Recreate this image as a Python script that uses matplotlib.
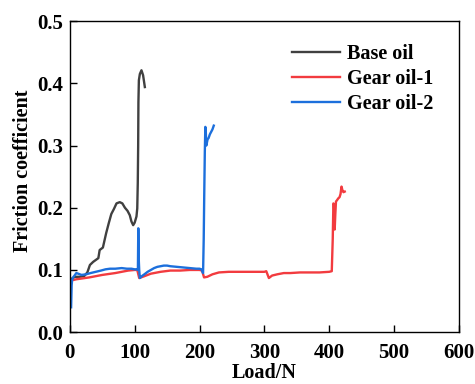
import matplotlib
matplotlib.use("Agg")
import matplotlib.pyplot as plt

base_x = [3, 8, 15, 22, 27, 31, 36, 40, 44, 46, 51, 56, 60, 64, 68, 72, 77, 81, 85, 89, 92.5, 95, 97.7, 100, 102.8, 104, 104.8, 105.4, 105.8, 106.5, 108, 110.5, 113, 115.7]
base_y = [0.086, 0.089, 0.089, 0.090, 0.096, 0.108, 0.113, 0.116, 0.119, 0.132, 0.136, 0.159, 0.175, 0.190, 0.198, 0.207, 0.209, 0.207, 0.200, 0.195, 0.188, 0.178, 0.172, 0.176, 0.186, 0.199, 0.24, 0.30, 0.37, 0.405, 0.415, 0.421, 0.413, 0.394]

g1_x = [2, 10, 30, 50, 70, 90, 100, 104, 107, 115, 125, 140, 155, 170, 185, 200, 204, 207, 212, 220, 230, 245, 260, 280, 300, 303, 307, 312, 320, 330, 340, 355, 370, 385, 400, 404, 405.5, 406.5, 407.5, 408.5, 409.5, 410.5, 412, 414, 416, 417.5, 419, 420.5, 422, 424]
g1_y = [0.083, 0.085, 0.088, 0.092, 0.095, 0.099, 0.100, 0.100, 0.087, 0.090, 0.094, 0.097, 0.099, 0.099, 0.100, 0.100, 0.099, 0.088, 0.089, 0.093, 0.096, 0.097, 0.097, 0.097, 0.097, 0.098, 0.087, 0.091, 0.093, 0.095, 0.095, 0.096, 0.096, 0.096, 0.097, 0.098, 0.15, 0.207, 0.205, 0.165, 0.19, 0.21, 0.212, 0.215, 0.217, 0.222, 0.234, 0.228, 0.225, 0.226]

g2_x = [2, 2.8, 3.5, 5, 8, 10, 13, 18, 25, 32, 40, 48, 55, 62, 70, 80, 88, 95, 100, 103, 105, 105.6, 106.2, 107, 108, 111, 115, 120, 125, 130, 135, 140, 145, 150, 155, 165, 175, 185, 195, 200, 203, 205.5, 206.5, 207.3, 208.2, 209, 209.8, 210.5, 211.5, 212.5, 214, 216, 218, 220, 222]
g2_y = [0.040, 0.075, 0.084, 0.088, 0.092, 0.095, 0.094, 0.092, 0.093, 0.095, 0.097, 0.099, 0.101, 0.102, 0.102, 0.103, 0.102, 0.102, 0.101, 0.101, 0.100, 0.167, 0.120, 0.100, 0.087, 0.090, 0.093, 0.097, 0.100, 0.103, 0.105, 0.106, 0.107, 0.107, 0.106, 0.105, 0.104, 0.103, 0.102, 0.102, 0.101, 0.095, 0.150, 0.220, 0.290, 0.330, 0.320, 0.300, 0.305, 0.310, 0.312, 0.318, 0.322, 0.326, 0.332]

series_labels = ["Base oil", "Gear oil-1", "Gear oil-2"]
x_ticks = [0, 100, 200, 300, 400, 500, 600]
y_ticks = [0.0, 0.1, 0.2, 0.3, 0.4, 0.5]

plt.rcParams['font.family'] = ['Liberation Serif', 'DejaVu Serif']
plt.rcParams['font.weight'] = 'bold'

fig = plt.figure(figsize=(4.75, 3.84), dpi=100)
ax = fig.add_axes([0.147, 0.135, 0.819, 0.81])

ax.plot(base_x, base_y, color='#404040', lw=1.7, label=series_labels[0])
ax.plot(g1_x, g1_y, color='#f23b3f', lw=1.7, label=series_labels[1])
ax.plot(g2_x, g2_y, color='#1c6fdc', lw=1.7, label=series_labels[2])

ax.set_xlim(0, 600)
ax.set_ylim(0, 0.5)
ax.set_xticks(x_ticks)
ax.set_yticks(y_ticks)
ax.set_xticklabels([str(t) for t in x_ticks])
ax.set_yticklabels([f"{t:.1f}" for t in y_ticks])
ax.tick_params(direction='in', length=5, width=1, labelsize=15, top=False, right=False)
ax.tick_params(axis='x', pad=8)
ax.tick_params(axis='y', pad=5)
for lab in ax.get_xticklabels() + ax.get_yticklabels():
    lab.set_fontweight('bold')
for s in ax.spines.values():
    s.set_linewidth(1.0)

ax.set_xlabel("Load/N", fontsize=14.5, fontweight='bold', labelpad=0)
ax.set_ylabel("Friction coefficient", fontsize=14.5, fontweight='bold')
ax.yaxis.set_label_coords(-0.094, 0.52)

leg = ax.legend(loc='upper right', bbox_to_anchor=(0.98, 0.985), frameon=False,
                fontsize=14.5, handlelength=2.35, handletextpad=0.35, labelspacing=0.26)
for t in leg.get_texts():
    t.set_fontweight('bold')

fig.savefig("out.png", dpi=100)
